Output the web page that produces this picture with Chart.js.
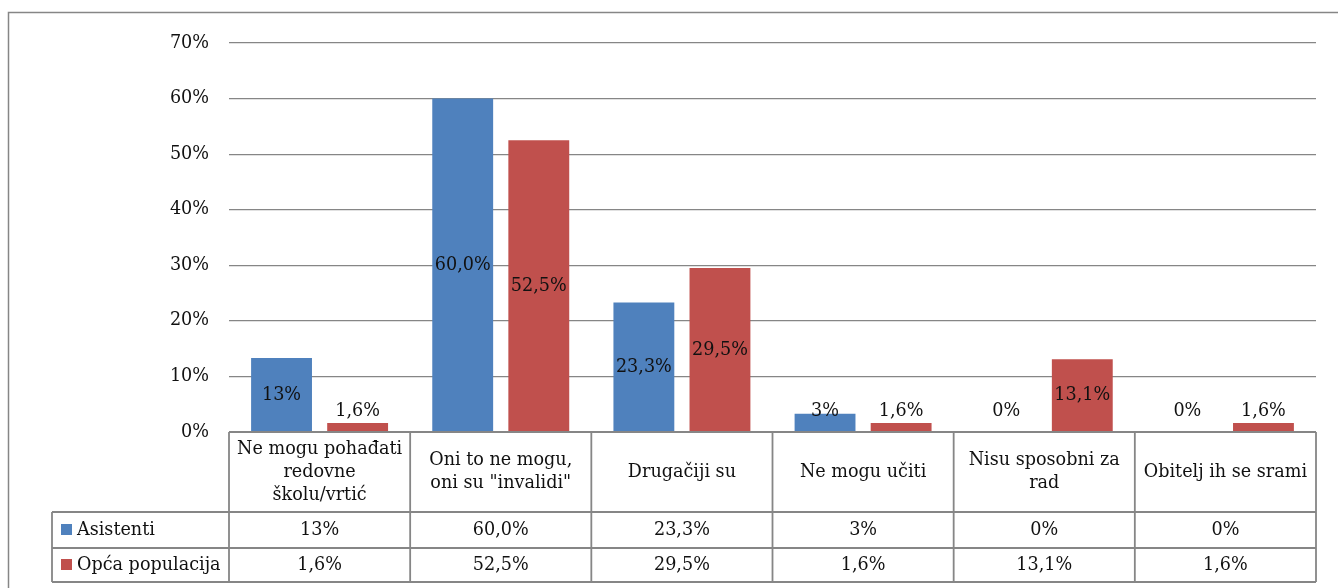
<!DOCTYPE html>
<html>
<head>
<meta charset="utf-8">
<script src="https://cdn.jsdelivr.net/npm/chart.js@4.4.1/dist/chart.umd.min.js"></script>
<style>
  html, body { margin: 0; padding: 0; background: #fff; }
  #wrap { position: absolute; left: 0; top: 0; width: 1338px; height: 588px; }
</style>
</head>
<body>
<div id="wrap"><canvas id="myChart"></canvas></div>
<script>
"use strict";

const categories = [
    ['Ne mogu pohađati', 'redovne', 'školu/vrtić'],
    ['Oni to ne mogu,', 'oni su "invalidi"'],
    ['Drugačiji su'],
    ['Ne mogu učiti'],
    ['Nisu sposobni za', 'rad'],
    ['Obitelj ih se srami']
];
const seriesNames = ['Asistenti', 'Opća populacija'];
const asistenti = [13.3, 60.0, 23.3, 3.3, 0, 0];
const opca = [1.6, 52.5, 29.5, 1.6, 13.1, 1.6];
const asistentiLabels = ['13%', '60,0%', '23,3%', '3%', '0%', '0%'];
const opcaLabels = ['1,6%', '52,5%', '29,5%', '1,6%', '13,1%', '1,6%'];
const yTicks = [0, 10, 20, 30, 40, 50, 60, 70];

const FONT = '"DejaVu Serif", serif';
const FS = 17.6;
const LINE = '#868686';
const TXT = '#111';

const ctx = document.getElementById('myChart');

const labelsAndTable = {
    id: 'labelsAndTable',
    afterDatasetsDraw(chart) {
        const c = chart.ctx;
        const y = chart.scales.y;
        const base = y.getPixelForValue(0);
        const texts = [asistentiLabels, opcaLabels];
        c.save();
        c.font = `${FS}px ${FONT}`;
        c.fillStyle = TXT;
        c.textAlign = 'center';
        c.textBaseline = 'middle';
        chart.data.datasets.forEach((ds, di) => {
            chart.getDatasetMeta(di).data.forEach((bar, i) => {
                const mid = (bar.y + base) / 2;
                c.fillText(texts[di][i], bar.x, Math.min(mid, base - 21));
            });
        });
        c.restore();
    },
    afterDraw(chart) {
        const c = chart.ctx;
        const x = chart.scales.x;
        const area = chart.chartArea;
        const n = categories.length;
        const cw = (area.right - area.left) / n;
        const top = area.bottom;
        const r1 = top + 80, r2 = r1 + 36, r3 = r2 + 34;
        const legLeft = 52;
        c.save();
        // outer frame
        c.strokeStyle = LINE;
        c.lineWidth = 1.5;
        c.strokeRect(8.5, 12.5, 1340, 600);
        // table lines
        c.lineWidth = 1.8;
        c.beginPath();
        c.moveTo(area.left, top); c.lineTo(area.right, top);
        [r1, r2, r3].forEach(yy => { c.moveTo(legLeft, yy); c.lineTo(area.right, yy); });
        for (let i = 0; i <= n; i++) {
            const xx = area.left + i * cw;
            c.moveTo(xx, top); c.lineTo(xx, r3);
        }
        c.moveTo(legLeft, r1); c.lineTo(legLeft, r3);
        c.stroke();

        c.font = `${FS}px ${FONT}`;
        c.fillStyle = TXT;
        c.textAlign = 'center';
        c.textBaseline = 'middle';
        const lh = 23;
        categories.forEach((lines, i) => {
            const cx = x.getPixelForValue(i);
            const start = (top + r1) / 2 - (lines.length - 1) * lh / 2;
            lines.forEach((t, k) => c.fillText(t, cx, start + k * lh));
        });
        const rows = [[r1, r2, asistentiLabels], [r2, r3, opcaLabels]];
        rows.forEach(([a, b, vals], ri) => {
            const cy = (a + b) / 2;
            vals.forEach((t, i) => c.fillText(t, x.getPixelForValue(i), cy));
            const ds = chart.data.datasets[ri];
            c.fillStyle = ds.backgroundColor;
            c.fillRect(legLeft + 9, cy - 6, 11, 11);
            c.fillStyle = TXT;
            c.textAlign = 'left';
            c.fillText(seriesNames[ri], legLeft + 25, cy);
            c.textAlign = 'center';
        });
        c.restore();
    }
};

new Chart(ctx, {
    type: 'bar',
    data: {
        labels: categories.map(l => l.join(' ')),
        datasets: [
            { label: seriesNames[0], data: asistenti, backgroundColor: '#4F81BD' },
            { label: seriesNames[1], data: opca, backgroundColor: '#C0504D' }
        ]
    },
    options: {
        responsive: true,
        maintainAspectRatio: false,
        animation: false,
        categoryPercentage: 0.84,
        barPercentage: 0.8,
        layout: {
            padding: { left: 0, right: 22, top: 43, bottom: 156 }
        },
        plugins: {
            legend: { display: false },
            tooltip: { enabled: false }
        },
        scales: {
            x: { display: false },
            y: {
                min: 0,
                max: 70,
                afterFit(scale) { scale.width = 229; },
                afterBuildTicks(scale) { scale.ticks = yTicks.map(v => ({ value: v })); },
                border: { display: false },
                grid: { color: LINE, lineWidth: 1.2, drawTicks: false },
                ticks: {
                    padding: 20,
                    color: TXT,
                    font: { family: FONT, size: FS },
                    callback: v => v + '%'
                }
            }
        }
    },
    plugins: [labelsAndTable]
});
</script>
</body>
</html>
